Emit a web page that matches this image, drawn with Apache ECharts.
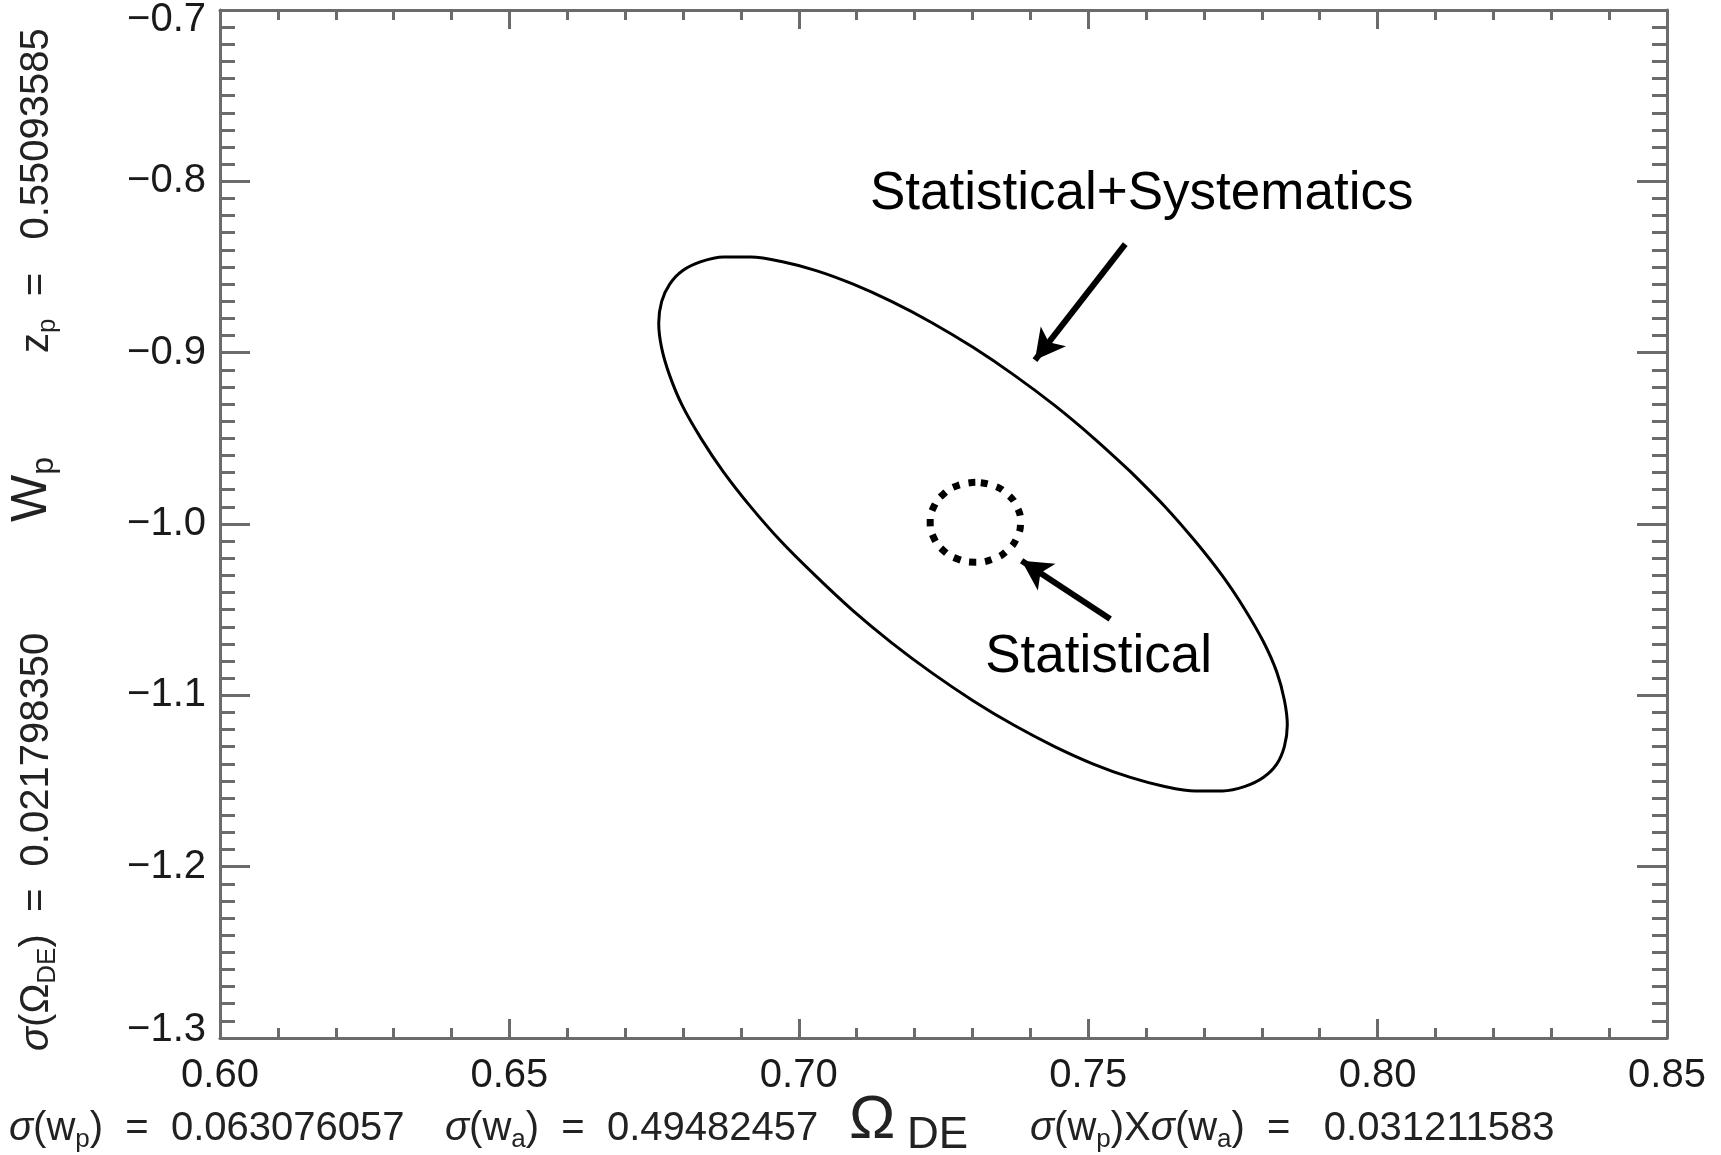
<!DOCTYPE html>
<html>
<head>
<meta charset="utf-8">
<script src="https://cdn.jsdelivr.net/npm/echarts@6/dist/echarts.min.js"></script>
<style>
html,body{margin:0;padding:0;background:#fff}
#chart{width:1721px;height:1155px}
</style>
</head>
<body>
<div id="chart"></div>
<script>
// Omega_DE vs w_p forecast contours
var xRange = [0.60, 0.85]
var yRange = [-1.3, -0.7]

// Statistical+Systematics contour
var sysEllipse = [
    [0.7573,-0.9694],[0.7509,-0.9497],[0.7442,-0.9308],[0.7372,-0.9131],[0.7301,-0.8969],
    [0.7230,-0.8825],[0.7160,-0.8701],[0.7093,-0.8599],[0.7030,-0.8521],[0.6970,-0.8468],
    [0.6917,-0.8442],[0.6870,-0.8442],[0.6831,-0.8469],[0.6799,-0.8522],[0.6777,-0.8600],
    [0.6763,-0.8702],[0.6758,-0.8827],[0.6763,-0.8972],[0.6777,-0.9134],[0.6799,-0.9311],
    [0.6831,-0.9500],[0.6870,-0.9697],[0.6917,-0.9900],[0.6970,-1.0104],[0.7030,-1.0306],
    [0.7093,-1.0504],[0.7160,-1.0692],[0.7230,-1.0869],[0.7301,-1.1031],[0.7372,-1.1175],
    [0.7442,-1.1299],[0.7509,-1.1401],[0.7573,-1.1479],[0.7632,-1.1532],[0.7685,-1.1559],
    [0.7732,-1.1558],[0.7771,-1.1531],[0.7803,-1.1478],[0.7826,-1.1400],[0.7839,-1.1298],
    [0.7844,-1.1173],[0.7839,-1.1029],[0.7826,-1.0866],[0.7803,-1.0689],[0.7771,-1.0500],
    [0.7732,-1.0303],[0.7685,-1.0101],[0.7632,-0.9896],[0.7573,-0.9694]
]
// Statistical only contour
var statEllipse = [
    [0.7305,-0.9757],[0.7275,-0.9775],[0.7250,-0.9825],[0.7233,-0.9901],[0.7227,-0.9990],
    [0.7233,-1.0079],[0.7250,-1.0155],[0.7275,-1.0205],[0.7305,-1.0223],[0.7335,-1.0205],
    [0.7360,-1.0155],[0.7377,-1.0079],[0.7383,-0.9990],[0.7377,-0.9901],[0.7360,-0.9825],
    [0.7335,-0.9775],[0.7305,-0.9757]
]
var sysArrow = [[0.7564,-0.8366],[0.7408,-0.9043]]
var statArrow = [[0.7538,-1.0555],[0.7385,-1.0214]]
var sysLabelAt = [0.7123,-0.8077]
var statLabelAt = [0.7322,-1.0779]

var sigmaWp = '0.063076057'
var sigmaWa = '0.49482457'
var sigmaProd = '0.031211583'
var sigmaOde = '0.021798350'
var zp = '0.55093585'

var FF = "'Liberation Sans', Arial, sans-serif"
var AX = '#6b6b6b'

function xAxisCfg(pos, showLabel){
    return {
        type:'value', position:pos, min:xRange[0], max:xRange[1], interval:0.05,
        axisLine:{show:true, onZero:false, lineStyle:{color:AX, width:3}},
        axisTick:{show:true, inside:true, length:19, lineStyle:{color:AX, width:3}},
        minorTick:{show:true, splitNumber:5, length:10, lineStyle:{color:AX, width:3}},
        splitLine:{show:false},
        axisLabel:{show:showLabel, margin:18, fontSize:40, fontFamily:FF, color:'#1a1a1a',
            formatter:function(v){ return v.toFixed(2) }}
    }
}
function yAxisCfg(pos, showLabel){
    var lab = {fontSize:40, fontFamily:FF, color:'#1a1a1a'}
    return {
        type:'value', position:pos, min:yRange[0], max:yRange[1], interval:0.1,
        axisLine:{show:true, onZero:false, lineStyle:{color:AX, width:3}},
        axisTick:{show:true, inside:true, length:30, lineStyle:{color:AX, width:3}},
        minorTick:{show:true, splitNumber:10, length:15, lineStyle:{color:AX, width:3}},
        splitLine:{show:false},
        axisLabel:{show:showLabel, margin:14, fontSize:40, fontFamily:FF, color:'#1a1a1a',
            formatter:function(v){
                var s = v.toFixed(1).replace('-', '\u2212')
                if (Math.abs(v - yRange[1]) < 1e-6) return '{top|' + s + '}'
                if (Math.abs(v - yRange[0]) < 1e-6) return '{bot|' + s + '}'
                return s
            },
            rich:{
                top:Object.assign({padding:[20,0,0,0]}, lab),
                bot:Object.assign({padding:[0,0,16,0]}, lab)
            }
        }
    }
}

var chart = echarts.init(document.getElementById('chart'))
chart.setOption({
    animation:false,
    backgroundColor:'#fff',
    grid:{left:220, right:54, top:10, bottom:117},
    xAxis:[xAxisCfg('bottom', true), xAxisCfg('top', false)],
    yAxis:[yAxisCfg('left', true), yAxisCfg('right', false)],
    series:[
        {
            name:'Statistical+Systematics', type:'line', data:sysEllipse, smooth:0.3,
            symbol:'none', silent:true, lineStyle:{color:'#000', width:3},
            markLine:{
                silent:true, symbol:['none','arrow'], symbolSize:[24,30],
                label:{show:false}, emphasis:{disabled:true},
                lineStyle:{color:'#000', width:6, type:'solid'},
                data:[
                    [{coord:sysArrow[0]}, {coord:sysArrow[1]}],
                    [{coord:statArrow[0]}, {coord:statArrow[1]}]
                ]
            }
        },
        {
            name:'Statistical', type:'line', data:statEllipse, smooth:true,
            symbol:'none', silent:true,
            lineStyle:{color:'#000', width:7, type:[7,9], cap:'butt'}
        }
    ]
})

// text pieces
var main = {fontSize:40, fontFamily:FF, color:'#222', lineHeight:48}
var rich = {
    s:Object.assign({}, main, {fontStyle:'italic'}),
    sub:{fontSize:26, fontFamily:FF, color:'#222', lineHeight:16, verticalAlign:'bottom'},
    wsub:{fontSize:32, fontFamily:FF, color:'#222', lineHeight:20, verticalAlign:'bottom'},
    de:{fontSize:26, fontFamily:FF, color:'#222', lineHeight:16, verticalAlign:'bottom'}
}
function txt(x, y, text, extra){
    var el = {type:'text', x:x, y:y, silent:true,
        style:Object.assign({text:text, fill:'#222', font:'40px ' + FF, lineHeight:48,
            align:'left', verticalAlign:'middle', rich:rich}, extra || {})}
    return el
}
var p1 = chart.convertToPixel({gridIndex:0}, sysLabelAt)
var p2 = chart.convertToPixel({gridIndex:0}, statLabelAt)
var g = [
    {type:'text', x:p1[0], y:p1[1], silent:true,
        style:{text:'Statistical+Systematics', fill:'#000', font:'53px ' + FF, align:'left', verticalAlign:'middle'}},
    {type:'text', x:p2[0], y:p2[1], silent:true,
        style:{text:'Statistical', fill:'#000', font:'53px ' + FF, align:'left', verticalAlign:'middle'}},
    txt(9, 1129, '{s|\u03c3}(w{sub|p})  =  ' + sigmaWp),
    txt(445, 1129, '{s|\u03c3}(w{sub|a})  =  ' + sigmaWa),
    txt(849, 1121, '\u03a9', {font:'62px ' + FF, lineHeight:66}),
    txt(907, 1136, 'DE', {font:'44px ' + FF}),
    txt(1030, 1129, '{s|\u03c3}(w{sub|p})X{s|\u03c3}(w{sub|a})  =   ' + sigmaProd)
]
var left1 = txt(37, 1051, '{s|\u03c3}(\u03a9{de|DE})  =  ' + sigmaOde); left1.rotation = Math.PI / 2
var left2 = txt(37, 353, 'z{sub|p}  =   ' + zp); left2.rotation = Math.PI / 2
var left3 = txt(32, 522, 'W{wsub|p}', {font:'50px ' + FF, lineHeight:56}); left3.rotation = Math.PI / 2
g.push(left1, left2, left3)
chart.setOption({graphic:g})
</script>
</body>
</html>
